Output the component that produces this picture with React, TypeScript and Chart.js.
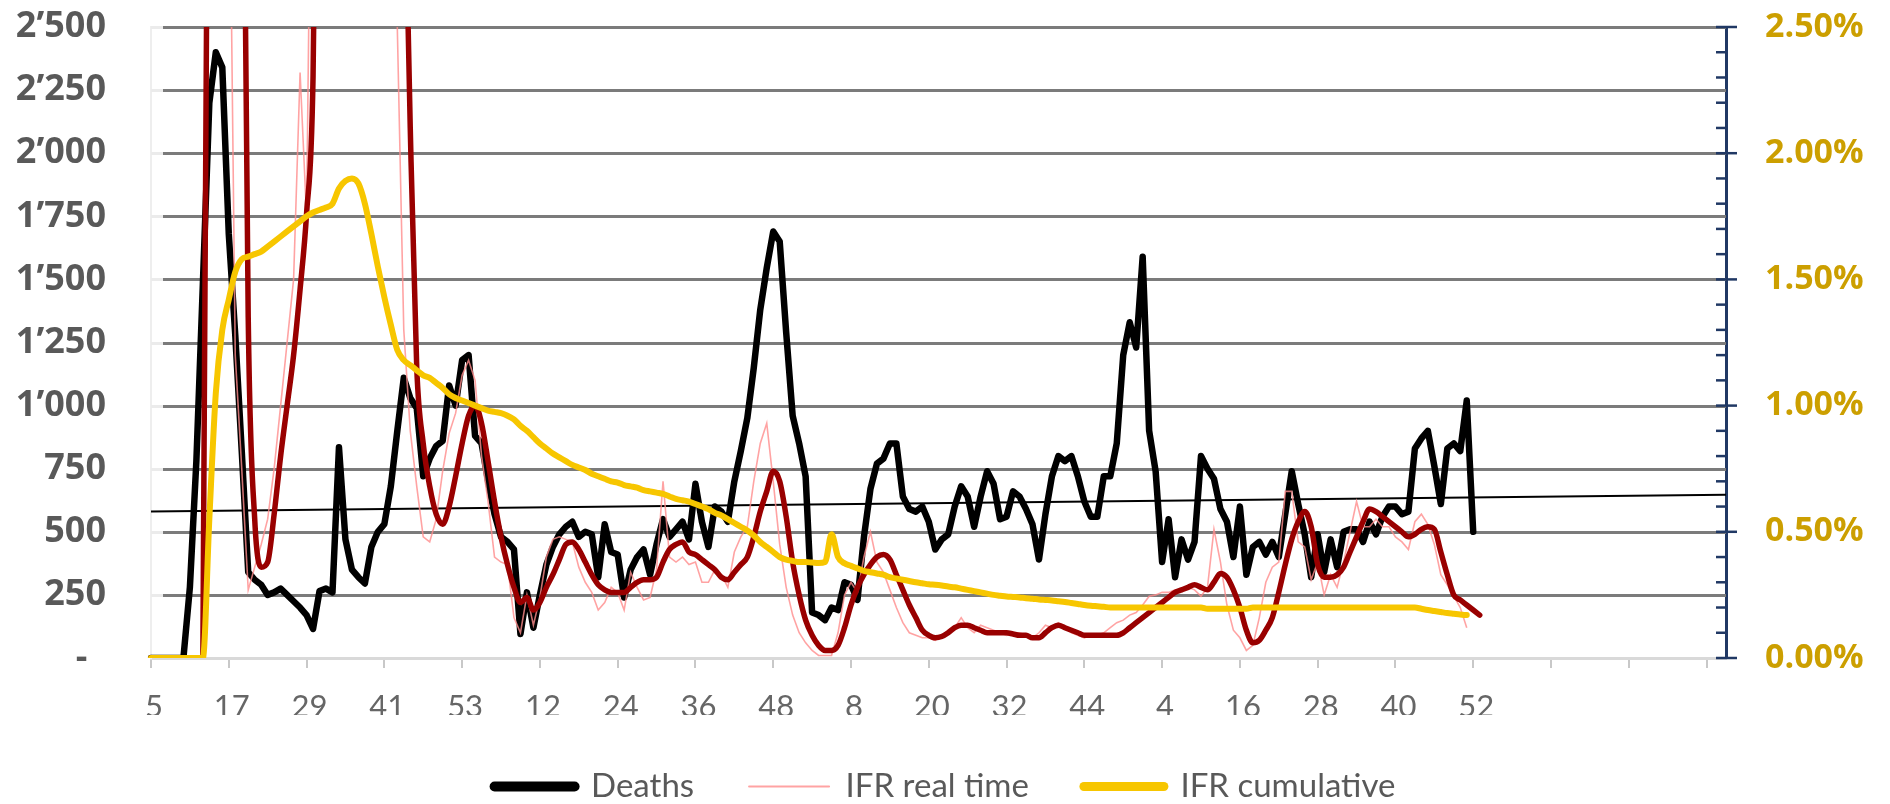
import React, { useEffect, useRef } from 'react';
import { Chart, registerables } from 'chart.js';

Chart.register(...registerables);

// ---- categories: ISO weeks (2020 w5 .. 2023 w52), then unlabeled slots to the axis end
const range = (a: number, b: number): string[] => {
  const out: string[] = [];
  for (let k = a; k <= b; k++) out.push(String(k));
  return out;
};
const weeks2020 = range(5, 53);
const weeks2021 = range(1, 52);
const weeks2022 = range(1, 52);
const weeks2023 = range(1, 52);
const blankSlots: string[] = new Array(39).fill('');
const categories: string[] = [...weeks2020, ...weeks2021, ...weeks2022, ...weeks2023, ...blankSlots];

// ---- series values
const deaths: number[] = [
  0, 0, 0, 0, 0, 0, 280, 780, 1480, 2200,
  2400, 2340, 1680, 1280, 820, 340, 310, 290, 250, 260,
  275, 250, 225, 200, 170, 115, 265, 275, 260, 835,
  470, 350, 320, 295, 440, 500, 530, 680, 900, 1110,
  1030, 990, 720, 790, 840, 860, 1080, 1000, 1180, 1200,
  880, 850, 700, 570, 480, 460, 430, 95, 260, 120,
  250, 370, 440, 490, 520, 540, 480, 500, 490, 320,
  530, 420, 410, 240, 350, 400, 430, 330, 450, 550,
  480, 510, 540, 470, 690, 540, 440, 600, 580, 540,
  700, 820, 950, 1150, 1380, 1545, 1690, 1650, 1290, 960,
  850, 720, 180, 170, 150, 200, 190, 300, 290, 230,
  480, 670, 770, 790, 850, 850, 640, 590, 580, 600,
  540, 430, 470, 490, 600, 680, 640, 520, 640, 740,
  690, 550, 560, 660, 640, 590, 530, 390, 570, 720,
  800, 780, 800, 720, 620, 560, 560, 720, 720, 850,
  1200, 1330, 1230, 1590, 900, 740, 380, 550, 320, 470,
  390, 460, 800, 750, 710, 590, 540, 400, 600, 330,
  440, 460, 410, 460, 400, 570, 740, 610, 490, 320,
  490, 340, 470, 360, 500, 510, 510, 460, 540, 490,
  560, 600, 600, 570, 580, 830, 870, 900, 760, 610,
  830, 850, 820, 1020, 500,
];

// IFR real time (%), weekly
const ifrRealTime: number[] = [
  0, 0, 0, 0, 0, 0, 0, 0, 0, 6,
  8, 6, 3.5, 1.2, 0.75, 0.27, 0.36, 0.45, 0.55, 0.75,
  1.0, 1.25, 1.5, 2.32, 1.75, 4, 6, 7, 8, 8,
  8, 7, 7, 6, 6, 5, 5, 4, 2.5, 1.3,
  0.9, 0.68, 0.48, 0.46, 0.55, 0.74, 0.89, 0.97, 1.12, 1.18,
  1.1, 0.8, 0.62, 0.40, 0.38, 0.37, 0.16, 0.10, 0.25, 0.13,
  0.24, 0.40, 0.47, 0.48, 0.47, 0.46, 0.36, 0.30, 0.26, 0.19,
  0.22, 0.28, 0.26, 0.19, 0.34, 0.28, 0.23, 0.24, 0.35, 0.70,
  0.40, 0.38, 0.40, 0.37, 0.38, 0.30, 0.30, 0.35, 0.33, 0.28,
  0.42, 0.48, 0.52, 0.70, 0.85, 0.93, 0.70, 0.45, 0.28, 0.17,
  0.10, 0.06, 0.03, 0.01, 0.01, 0.01, 0.10, 0.25, 0.30, 0.26,
  0.40, 0.50, 0.38, 0.34, 0.27, 0.20, 0.14, 0.10, 0.09, 0.08,
  0.08, 0.07, 0.09, 0.11, 0.12, 0.16, 0.12, 0.10, 0.13, 0.12,
  0.11, 0.10, 0.09, 0.10, 0.10, 0.09, 0.08, 0.10, 0.13, 0.12,
  0.14, 0.12, 0.10, 0.09, 0.08, 0.09, 0.09, 0.10, 0.12, 0.14,
  0.15, 0.17, 0.18, 0.21, 0.245, 0.25, 0.26, 0.26, 0.27, 0.27,
  0.28, 0.27, 0.245, 0.28, 0.51, 0.38, 0.21, 0.11, 0.08, 0.03,
  0.05, 0.16, 0.30, 0.36, 0.38, 0.66, 0.66, 0.46, 0.44, 0.31,
  0.38, 0.25, 0.33, 0.28, 0.38, 0.50, 0.62, 0.52, 0.52, 0.55,
  0.52, 0.52, 0.48, 0.46, 0.43, 0.54, 0.57, 0.53, 0.45, 0.33,
  0.29, 0.245, 0.20, 0.12,
];

// IFR real time, moving-average trend (%)
const ifrTrend: number[] = [
  0, 0, 0, 0, 0, 0, 0, 0, 0, 5,
  9, 10, 8, 6, 4.2, 1.35, 0.55, 0.36, 0.38, 0.57,
  0.80, 1.0, 1.2, 1.46, 1.76, 2.3, 4.5, 6, 7, 8,
  8, 8, 7, 7, 6, 5.5, 5, 4.5, 4, 3.3,
  2.1, 1.15, 0.85, 0.68, 0.57, 0.53, 0.60, 0.72, 0.85, 0.96,
  1.0, 0.93, 0.78, 0.62, 0.48, 0.37, 0.28, 0.22, 0.24, 0.19,
  0.22, 0.28, 0.33, 0.39, 0.45, 0.46, 0.43, 0.38, 0.33, 0.29,
  0.27, 0.26, 0.26, 0.26, 0.28, 0.30, 0.31, 0.31, 0.32, 0.38,
  0.43, 0.45, 0.46, 0.42, 0.41, 0.39, 0.37, 0.35, 0.32, 0.31,
  0.34, 0.37, 0.40, 0.48, 0.58, 0.66, 0.74, 0.70, 0.56, 0.38,
  0.25, 0.15, 0.09, 0.05, 0.03, 0.03, 0.05, 0.12, 0.21, 0.28,
  0.33, 0.37, 0.40, 0.41, 0.39, 0.33, 0.27, 0.21, 0.16, 0.11,
  0.09, 0.08, 0.085, 0.10, 0.12, 0.13, 0.13, 0.12, 0.11, 0.10,
  0.10, 0.10, 0.10, 0.095, 0.09, 0.09, 0.08, 0.08, 0.10, 0.12,
  0.13, 0.12, 0.11, 0.10, 0.09, 0.09, 0.09, 0.09, 0.09, 0.09,
  0.10, 0.12, 0.14, 0.16, 0.18, 0.20, 0.22, 0.24, 0.26, 0.27,
  0.28, 0.29, 0.28, 0.27, 0.30, 0.335, 0.32, 0.27, 0.20, 0.11,
  0.06, 0.07, 0.11, 0.16, 0.26, 0.37, 0.47, 0.54, 0.58, 0.52,
  0.37, 0.32, 0.32, 0.33, 0.36, 0.42, 0.48, 0.54, 0.59, 0.58,
  0.56, 0.54, 0.52, 0.50, 0.48, 0.49, 0.51, 0.52, 0.51, 0.42,
  0.33, 0.25, 0.23, 0.21, 0.19, 0.17,
];

// IFR cumulative (%)
const ifrCumulative: number[] = [
  0, 0, 0, 0, 0, 0, 0, 0, 0, 0.55,
  1.05, 1.30, 1.42, 1.53, 1.58, 1.59, 1.60, 1.61, 1.63, 1.65,
  1.67, 1.69, 1.71, 1.73, 1.75, 1.765, 1.775, 1.785, 1.80, 1.86,
  1.89, 1.90, 1.88, 1.80, 1.68, 1.55, 1.43, 1.32, 1.22, 1.18,
  1.16, 1.14, 1.12, 1.11, 1.09, 1.07, 1.045, 1.03, 1.02, 1.01,
  1.0, 0.99, 0.98, 0.975, 0.97, 0.96, 0.945, 0.92, 0.90, 0.875,
  0.85, 0.83, 0.81, 0.795, 0.78, 0.765, 0.755, 0.745, 0.73, 0.72,
  0.71, 0.70, 0.695, 0.685, 0.68, 0.675, 0.665, 0.66, 0.655, 0.65,
  0.64, 0.63, 0.625, 0.62, 0.61, 0.60, 0.59, 0.575, 0.565, 0.55,
  0.535, 0.52, 0.505, 0.485, 0.46, 0.44, 0.42, 0.40, 0.39, 0.385,
  0.38, 0.38, 0.378, 0.376, 0.38, 0.49, 0.40, 0.375, 0.365, 0.355,
  0.345, 0.34, 0.335, 0.33, 0.32, 0.315, 0.31, 0.305, 0.30, 0.296,
  0.292, 0.29, 0.287, 0.283, 0.28, 0.275, 0.27, 0.265, 0.26, 0.255,
  0.25, 0.247, 0.244, 0.242, 0.24, 0.237, 0.235, 0.232, 0.23, 0.228,
  0.225, 0.222, 0.218, 0.214, 0.21, 0.207, 0.205, 0.203, 0.2, 0.2,
  0.2, 0.2, 0.2, 0.2, 0.2, 0.2, 0.2, 0.2, 0.2, 0.2,
  0.2, 0.2, 0.2, 0.195, 0.195, 0.195, 0.195, 0.195, 0.195, 0.195,
  0.2, 0.2, 0.2, 0.2, 0.2, 0.2, 0.2, 0.2, 0.2, 0.2,
  0.2, 0.2, 0.2, 0.2, 0.2, 0.2, 0.2, 0.2, 0.2, 0.2,
  0.2, 0.2, 0.2, 0.2, 0.2, 0.2, 0.195, 0.19, 0.186, 0.182,
  0.178, 0.175, 0.172, 0.17,
];

// linear trend of deaths: value at first and last category
const deathsTrendStart = 580;
const deathsTrendEnd = 647;

// axis ticks
const leftMax = 2500;
const leftStep = 250;
const rightMax = 2.5;
const rightStep = 0.5;
const rightMinorStep = 0.1;

const fmtDeaths = (v: number): string => {
  if (v === 0) return '-  ';
  if (v >= 1000) {
    const th = Math.floor(v / 1000);
    const rest = String(v % 1000).padStart(3, '0');
    return th + '\u2019' + rest;
  }
  return String(v);
};

// horizontal gridlines (dark) with a faint stub next to the left axis, plus right-axis tick marks
const axisDecor = {
  id: 'axisDecor',
  beforeDatasetsDraw(chart: any) {
    const s = chart.scales.y;
    const { left, right } = chart.chartArea;
    const ctx = chart.ctx;
    ctx.save();
    s.ticks.forEach((t: any) => {
      if (t.value === 0) return;
      const py = Math.round(s.getPixelForValue(t.value)) + 0.5;
      ctx.lineWidth = 3;
      ctx.strokeStyle = '#ebebeb';
      ctx.beginPath();
      ctx.moveTo(left, py);
      ctx.lineTo(left + 12, py);
      ctx.stroke();
      ctx.strokeStyle = '#7b7b7b';
      ctx.beginPath();
      ctx.moveTo(left + 12, py);
      ctx.lineTo(right, py);
      ctx.stroke();
    });
    ctx.restore();
  },
  afterDraw(chart: any) {
    const s = chart.scales.y1;
    const ctx = chart.ctx;
    const x = s.left;
    ctx.save();
    ctx.strokeStyle = '#203864';
    ctx.lineWidth = 2.5;
    const n = Math.round(rightMax / rightMinorStep);
    const per = Math.round(rightStep / rightMinorStep);
    for (let k = 0; k <= n; k++) {
      const py = s.getPixelForValue(k * rightMinorStep);
      const major = k % per === 0;
      ctx.beginPath();
      ctx.moveTo(x - 10, py);
      ctx.lineTo(major ? x + 11 : x, py);
      ctx.stroke();
    }
    ctx.restore();
  },
};

export default function App() {
  const ref = useRef<HTMLCanvasElement | null>(null);

  useEffect(() => {
    if (!ref.current) return;
    const trend: (number | null)[] = categories.map(() => null);
    trend[0] = deathsTrendStart;
    trend[categories.length - 1] = deathsTrendEnd;

    const legendWidths: Record<number, number> = { 0: 10, 1: 2, 2: 9 };

    const chart = new Chart(ref.current, {
      type: 'line',
      data: {
        labels: categories,
        datasets: [
          {
            label: 'Deaths',
            data: deaths,
            borderColor: '#000000',
            backgroundColor: '#000000',
            borderWidth: 6.5,
            pointRadius: 0,
            borderJoinStyle: 'round',
            borderCapStyle: 'round',
            yAxisID: 'y',
            order: 3,
          },
          {
            label: 'IFR real time',
            data: ifrRealTime,
            borderColor: 'rgba(255,140,140,0.8)',
            backgroundColor: 'rgba(255,140,140,0.8)',
            borderWidth: 1.6,
            pointRadius: 0,
            yAxisID: 'y1',
            order: 2,
          },
          {
            label: 'IFR cumulative',
            data: ifrCumulative,
            borderColor: '#f7c600',
            backgroundColor: '#f7c600',
            borderWidth: 6,
            pointRadius: 0,
            borderJoinStyle: 'round',
            borderCapStyle: 'round',
            cubicInterpolationMode: 'monotone',
            yAxisID: 'y1',
            order: 0,
          },
          {
            label: 'Moving average (IFR real time)',
            data: ifrTrend,
            borderColor: '#990000',
            backgroundColor: '#990000',
            borderWidth: 5.5,
            pointRadius: 0,
            borderJoinStyle: 'round',
            borderCapStyle: 'round',
            cubicInterpolationMode: 'monotone',
            yAxisID: 'y1',
            order: 1,
          },
          {
            label: 'Linear (Deaths)',
            data: trend,
            borderColor: '#000000',
            backgroundColor: '#000000',
            borderWidth: 2,
            pointRadius: 0,
            spanGaps: true,
            yAxisID: 'y',
            order: 4,
          },
        ],
      },
      options: {
        animation: false,
        responsive: false,
        devicePixelRatio: 1,
        events: [],
        layout: { padding: { top: 27, bottom: -9, left: 0, right: 0 } },
        plugins: {
          tooltip: { enabled: false },
          legend: {
            position: 'bottom',
            labels: {
              usePointStyle: true,
              pointStyleWidth: 80,
              padding: 55,
              color: '#595959',
              font: { family: 'Lato', size: 33 },
              sort: (a: any, b: any) => a.datasetIndex - b.datasetIndex,
              generateLabels: (c: any) => {
                const items = (Chart.defaults.plugins.legend.labels as any).generateLabels(c);
                return items
                  .filter((it: any) => it.datasetIndex <= 2)
                  .map((it: any) => ({
                    ...it,
                    pointStyle: 'line',
                    lineCap: 'round',
                    lineWidth: legendWidths[it.datasetIndex],
                  }));
              },
            },
          },
        },
        scales: {
          x: {
            type: 'category',
            offset: false,
            grid: {
              display: true,
              drawOnChartArea: false,
              drawTicks: true,
              tickLength: 10,
              lineWidth: 2,
              color: (ctx: any) => (ctx.index % 12 === 0 ? '#c8c8c8' : 'rgba(0,0,0,0)'),
            },
            border: { display: true, color: '#d9d9d9', width: 3 },
            ticks: {
              autoSkip: false,
              maxRotation: 0,
              minRotation: 0,
              padding: 20,
              labelOffset: 3,
              color: '#666666',
              font: { family: 'Lato', size: 31 },
              callback: (_v: any, i: number) => (i % 12 === 0 ? categories[i] : ''),
            },
            afterFit: (s: any) => {
              s.height = 57;
            },
          },
          y: {
            position: 'left',
            min: 0,
            max: leftMax,
            grid: { drawOnChartArea: false, drawTicks: false },
            border: { display: true, color: '#eeeeee', width: 2 },
            ticks: {
              stepSize: leftStep,
              padding: 45,
              color: '#595959',
              font: { family: 'Open Sans', size: 36, weight: 'bold' },
              callback: (v: any) => fmtDeaths(Number(v)),
            },
            afterFit: (s: any) => {
              s.width = 151;
              s.paddingTop = 0;
              s.paddingBottom = 0;
            },
          },
          y1: {
            position: 'right',
            min: 0,
            max: rightMax,
            grid: { drawOnChartArea: false, drawTicks: false },
            border: { display: true, color: '#203864', width: 3 },
            ticks: {
              stepSize: rightStep,
              padding: 39,
              color: '#cc9f00',
              font: { family: 'Open Sans', size: 34, weight: 'bold' },
              callback: (v: any) => Number(v).toFixed(2) + '%',
            },
            afterFit: (s: any) => {
              s.width = 164;
              s.paddingTop = 0;
              s.paddingBottom = 0;
            },
          },
        },
      },
      plugins: [axisDecor],
    } as any);

    return () => chart.destroy();
  }, []);

  return (
    <div style={{ position: 'fixed', left: 0, top: 0, width: 1890, height: 804, background: '#ffffff' }}>
      <canvas ref={ref} width={1890} height={804} style={{ display: 'block', width: 1890, height: 804 }} />
    </div>
  );
}
